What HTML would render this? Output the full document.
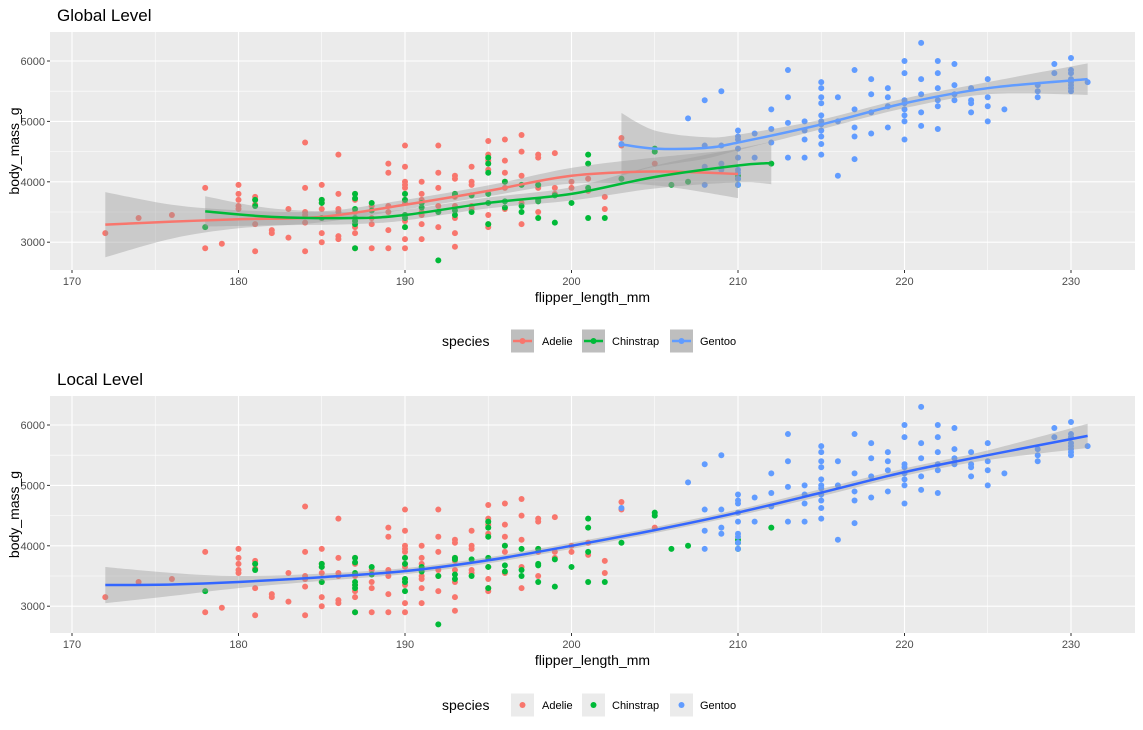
<!DOCTYPE html>
<html><head><meta charset="utf-8">
<style>
body{margin:0;background:#fff;}
svg{display:block;font-family:"Liberation Sans",sans-serif;}
</style></head>
<body>
<svg id="chart" width="1143" height="730"></svg>
<script>
// ---- data ----
const adelieFlipper=[172,174,176,178,178,179,180,180,180,180,180,181,181,181,181,181,182,182,183,183,184,184,184,184,184,184,185,185,185,185,185,185,185,186,186,186,186,186,186,187,187,187,187,187,187,187,188,188,188,188,189,189,189,189,189,189,190,190,190,190,190,190,190,190,190,190,190,190,190,191,191,191,191,191,191,191,192,192,192,192,192,192,193,193,193,193,193,193,193,193,194,194,194,194,194,195,195,195,195,195,195,195,195,196,196,196,196,196,196,197,197,197,197,197,198,198,198,198,198,199,199,199,200,200,201,201,202,202,203,203,205];
const adelieMass=[3150,3400,3450,3900,2900,2975,3950,3800,3700,3600,3550,3750,3700,3625,3300,2850,3200,3150,3550,3075,4650,3900,3500,3450,3325,2850,3950,3700,3650,3550,3400,3150,3000,4450,3800,3550,3500,3100,3050,3800,3700,3500,3350,3250,3150,2900,3600,3400,3300,2900,4300,4150,3600,3500,3200,2900,4600,4250,4000,3950,3900,3800,3700,3650,3450,3400,3350,3050,2900,4000,3800,3700,3500,3450,3050,3300,4600,4150,3900,3600,3500,3250,4100,4050,3750,3800,3600,3400,3150,2925,4250,4000,3950,3600,3550,4675,4450,4350,4200,3650,3450,3300,3250,4700,4350,4150,4000,3900,3550,4775,4500,4100,3650,3300,4400,4450,3950,3900,3500,4475,3900,3800,4000,3900,4050,3850,3550,3750,4725,4600,4300];
const chinFlipper=[178,181,181,185,185,185,187,187,187,187,187,187,187,188,188,190,190,190,190,190,191,191,192,192,193,193,193,193,194,194,195,195,195,195,195,195,196,196,196,197,197,197,198,198,198,198,199,199,200,201,201,201,201,202,203,205,205,206,207,210,210,210,212];
const chinMass=[3250,3700,3600,3700,3650,3400,3800,3725,3550,3400,3300,2900,3350,3650,3525,3800,3700,3450,3400,3250,3650,3575,3500,2700,3800,3775,3525,3450,3500,3775,4400,4300,4150,3800,3650,3300,4000,3675,3575,3600,3950,3500,3400,3675,3950,3700,3325,3775,3650,4450,4300,3900,3400,3400,4050,4550,4500,3950,4000,4050,3950,4100,4300];
const gentooFlipper=[203,207,208,208,208,208,209,209,209,209,210,210,210,210,210,210,210,210,210,211,211,212,212,212,213,213,213,213,214,214,214,214,215,215,215,215,215,215,215,215,215,215,215,216,216,216,217,217,217,217,217,218,218,218,218,219,219,219,219,220,220,220,220,220,220,220,220,221,221,221,221,221,222,222,222,222,222,222,223,223,223,223,224,224,224,224,225,225,225,225,226,228,228,228,229,229,230,230,230,230,230,230,230,230,231];
const gentooMass=[4625,5050,5350,4600,4250,3950,5500,4600,4300,4200,4850,4750,4700,4550,4400,4200,4150,4050,3950,4800,4400,5200,4875,4650,5850,5400,4975,4400,5000,4850,4400,4700,5650,5550,5400,5300,5100,5000,4950,4850,4750,4625,4450,5400,5000,4100,5850,5200,4900,4750,4375,5700,5450,5150,4800,5400,5550,5250,4900,6000,5800,5350,5300,5200,5100,5000,4700,6300,5700,5450,5150,4925,6000,5800,5550,5350,5250,4875,5950,5600,5450,5350,5550,5350,5300,5150,5700,5400,5250,5000,5200,5600,5500,5400,5950,5800,6050,5850,5800,5700,5650,5600,5550,5500,5650];
// smooth fits
const adelieFitX=[172,176,180,185,190,195,200,205,210];
const adelieFit=[3290,3340,3380,3420,3620,3850,4100,4170,4130];
const adelieLo=[2750,3060,3230,3330,3540,3760,3970,3940,3730];
const adelieHi=[3830,3620,3530,3510,3700,3940,4230,4400,4530];
const chinFitX=[178,182,187,190,195,200,205,210,212];
const chinFit=[3510,3420,3400,3450,3650,3800,4080,4270,4310];
const chinLo=[3260,3280,3300,3360,3560,3690,3890,3990,3960];
const chinHi=[3760,3560,3500,3540,3740,3910,4270,4550,4660];
const gentooFitX=[203,205,208,210,215,220,225,231];
const gentooFit=[4620,4550,4560,4650,4950,5300,5550,5700];
const gentooLo=[4100,4250,4380,4520,4870,5220,5450,5440];
const gentooHi=[5140,4850,4740,4780,5030,5380,5650,5960];
const allFitX=[172,176,180,185,190,195,200,205,210,215,220,225,231];
const allFit=[3350,3360,3400,3480,3580,3760,4000,4260,4550,4880,5220,5500,5820];
const allLo=[3050,3170,3300,3420,3530,3710,3950,4210,4500,4820,5160,5420,5620];
const allHi=[3650,3550,3500,3540,3630,3810,4050,4310,4600,4940,5280,5580,6020];
const xTicks=[170,180,190,200,210,220,230];
const yTicks=[3000,4000,5000,6000];
const speciesNames=["Adelie","Chinstrap","Gentoo"];
const colors=["#F8766D","#00BA38","#619CFF"];

const svg=document.getElementById('chart');
const NS='http://www.w3.org/2000/svg';
function mk(tag,attrs,parent){const e=document.createElementNS(NS,tag);for(const k in attrs)e.setAttribute(k,attrs[k]);(parent||svg).appendChild(e);return e;}
const L=50,R=1135;
const xs=v=>72+(v-170)*16.65;
function path(xsArr,ysArr,sx,sy){
  const p=xsArr.map((x,i)=>[sx(x),sy(ysArr[i])]);
  let d='M'+p[0][0]+','+p[0][1];
  for(let i=0;i<p.length-1;i++){
    const p0=p[i-1]||p[i],p1=p[i],p2=p[i+1],p3=p[i+2]||p2;
    d+=' C'+(p1[0]+(p2[0]-p0[0])/6)+','+(p1[1]+(p2[1]-p0[1])/6)+' '+(p2[0]-(p3[0]-p1[0])/6)+','+(p2[1]-(p3[1]-p1[1])/6)+' '+p2[0]+','+p2[1];
  }
  return d;
}
function band(xsArr,lo,hi,sx,sy){
  const top=path(xsArr,hi,sx,sy);
  const rx=xsArr.slice().reverse(),rl=lo.slice().reverse();
  const bot=path(rx,rl,sx,sy).replace('M','L');
  return top+' '+bot+' Z';
}
function panel(top,bottom,y6000,title,name,global){
  const g=mk('g',{});
  
  
  const ys=v=>y6000+(6000-v)*0.0604;
  const t=mk('text',{x:57,y:top-11,'font-size':17,fill:'#000'},g);t.textContent=title;
  
  const bg=mk('rect',{x:L,y:top,width:R-L,height:bottom-top,fill:'#EBEBEB'},g);
  
  for(let v=175;v<=235;v+=10){const X=xs(v);if(X<R)mk('line',{x1:X,x2:X,y1:top,y2:bottom,stroke:'#fff','stroke-width':0.55},g);}
  for(let v=2500;v<=6500;v+=1000){const Y=ys(v);if(Y>top&&Y<bottom)mk('line',{x1:L,x2:R,y1:Y,y2:Y,stroke:'#fff','stroke-width':0.55},g);}
  xTicks.forEach(v=>{const X=xs(v);mk('line',{x1:X,x2:X,y1:top,y2:bottom,stroke:'#fff','stroke-width':1.1},g);
    mk('line',{x1:X,x2:X,y1:bottom,y2:bottom+3,stroke:'#333'},g);
    const tx=mk('text',{x:X,y:bottom+15,'font-size':11,fill:'#4D4D4D','text-anchor':'middle'},g);tx.textContent=v;
    });
  yTicks.forEach(v=>{const Y=ys(v);mk('line',{x1:L,x2:R,y1:Y,y2:Y,stroke:'#fff','stroke-width':1.1},g);
    mk('line',{x1:L-3,x2:L,y1:Y,y2:Y,stroke:'#333'},g);
    const tx=mk('text',{x:L-5,y:Y+4,'font-size':11,fill:'#4D4D4D','text-anchor':'end'},g);tx.textContent=v;
    });
  const xt=mk('text',{x:(L+R)/2,y:bottom+32,'font-size':14,fill:'#000','text-anchor':'middle'},g);xt.textContent='flipper_length_mm';
  
  const my=(top+bottom)/2;
  const yt=mk('text',{x:19,y:my,'font-size':14,fill:'#000','text-anchor':'middle',transform:'rotate(-90 19 '+my+')'},g);yt.textContent='body_mass_g';
  
  const sets=[[adelieFlipper,adelieMass],[chinFlipper,chinMass],[gentooFlipper,gentooMass]];
  sets.forEach((s,k)=>{s[0].forEach((f,i)=>{const c=mk('circle',{cx:xs(f),cy:ys(s[1][i]),r:3,fill:colors[k]},g);
    });});
  if(global){
    const fits=[[adelieFitX,adelieFit,adelieLo,adelieHi],[chinFitX,chinFit,chinLo,chinHi],[gentooFitX,gentooFit,gentooLo,gentooHi]];
    fits.forEach((f,k)=>{const b=mk('path',{d:band(f[0],f[2],f[3],xs,ys),fill:'#999','fill-opacity':0.4},g);
      });
    fits.forEach((f,k)=>{const l=mk('path',{d:path(f[0],f[1],xs,ys),fill:'none',stroke:colors[k],'stroke-width':2.5},g);
      });
  } else {
    const b=mk('path',{d:band(allFitX,allLo,allHi,xs,ys),fill:'#999','fill-opacity':0.4},g);
    
    const l=mk('path',{d:path(allFitX,allFit,xs,ys),fill:'none',stroke:'#3366FF','stroke-width':2.5},g);
    
  }
}
function legend(cy,global){
  const g=mk('g',{});
  
  
  const t=mk('text',{x:442,y:cy+5,'font-size':14,fill:'#000'},g);t.textContent='species';
  const bx=[511,582,670];
  const lx=[542,612,700];
  speciesNames.forEach((n,k)=>{
    const e=mk('g',{},g);
    
    
    mk('rect',{x:bx[k],y:cy-11.5,width:23,height:23,fill:global?'#BEBEBE':'#EBEBEB'},e);
    if(global)mk('line',{x1:bx[k]+2,x2:bx[k]+21,y1:cy,y2:cy,stroke:colors[k],'stroke-width':2.5},e);
    mk('circle',{cx:bx[k]+11.5,cy:cy,r:3,fill:colors[k]},e);
    const lt=mk('text',{x:lx[k],y:cy+4,'font-size':11,fill:'#000'},e);lt.textContent=n;
  });
}
panel(32,270,61,'Global Level','global-panel',true);
legend(341,true);
panel(396,633,425,'Local Level','local-panel',false);
legend(705,false);
</script>
</body></html>
